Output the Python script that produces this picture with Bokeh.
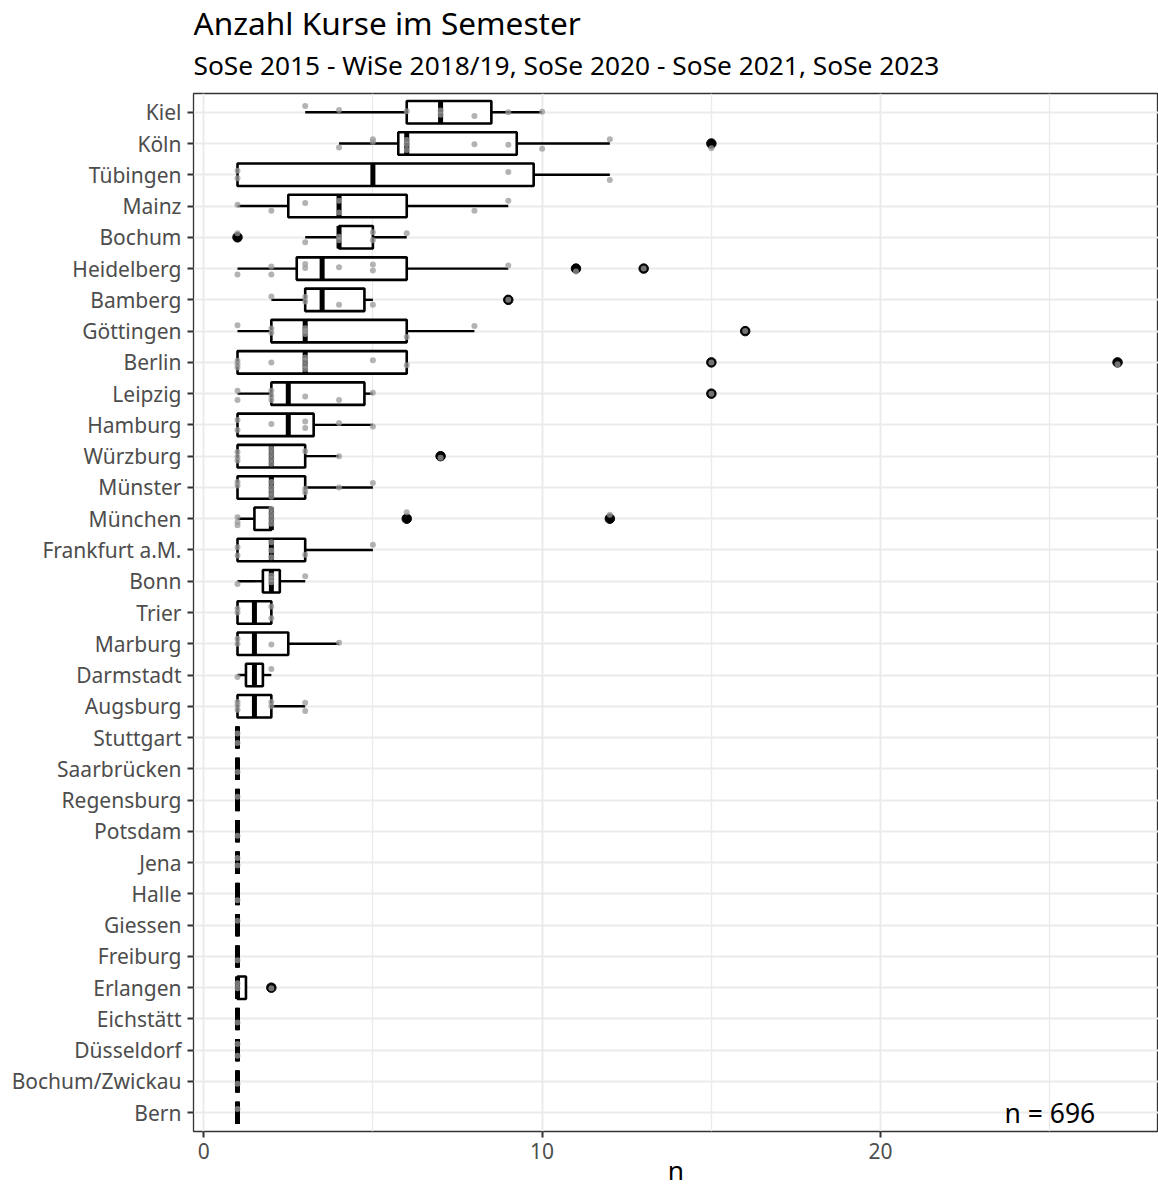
from bokeh.plotting import figure
from bokeh.models import FixedTicker, Label, Range1d, ColumnDataSource
from bokeh.layouts import column
from bokeh.embed import file_html
from bokeh.resources import INLINE

# ---------------- data ----------------
universities = ["Kiel", "Köln", "Tübingen", "Mainz", "Bochum", "Heidelberg", "Bamberg",
                "Göttingen", "Berlin", "Leipzig", "Hamburg", "Würzburg", "Münster", "München",
                "Frankfurt a.M.", "Bonn", "Trier", "Marburg", "Darmstadt", "Augsburg",
                "Stuttgart", "Saarbrücken", "Regensburg", "Potsdam", "Jena", "Halle",
                "Giessen", "Freiburg", "Erlangen", "Eichstätt", "Düsseldorf",
                "Bochum/Zwickau", "Bern"]

whisker_low = [3, 4, 1, 1, 3, 1, 2, 1, 1, 1, 1, 1, 1, 1, 1, 1, 1, 1, 1, 1,
               1, 1, 1, 1, 1, 1, 1, 1, 1, 1, 1, 1, 1]
q1 = [6, 5.75, 1, 2.5, 4, 2.75, 3, 2, 1, 2, 1, 1, 1, 1.5, 1, 1.75, 1, 1, 1.25, 1,
      1, 1, 1, 1, 1, 1, 1, 1, 1, 1, 1, 1, 1]
median = [7, 6, 5, 4, 4, 3.5, 3.5, 3, 3, 2.5, 2.5, 2, 2, 2, 2, 2, 1.5, 1.5, 1.5, 1.5,
          1, 1, 1, 1, 1, 1, 1, 1, 1, 1, 1, 1, 1]
q3 = [8.5, 9.25, 9.75, 6, 5, 6, 4.75, 6, 6, 4.75, 3.25, 3, 3, 2, 3, 2.25, 2, 2.5, 1.75, 2,
      1, 1, 1, 1, 1, 1, 1, 1, 1.25, 1, 1, 1, 1]
whisker_high = [10, 12, 12, 9, 6, 9, 5, 8, 6, 5, 5, 4, 5, 2, 5, 3, 2, 4, 2, 3,
                1, 1, 1, 1, 1, 1, 1, 1, 1.25, 1, 1, 1, 1]
outliers = [[], [15], [], [], [1], [11, 13], [9], [16], [15, 27], [15], [], [7], [], [6, 12],
            [], [], [], [], [], [], [], [], [], [], [], [], [], [], [2], [], [], [], []]

point_values = [
    [3, 4, 6, 7, 7, 8, 9, 10],
    [4, 5, 5, 6, 6, 6, 8, 9, 10, 12, 15],
    [1, 1, 9, 12],
    [1, 2, 3, 4, 4, 8, 9],
    [1, 3, 4, 4, 5, 5, 6],
    [1, 2, 2, 3, 3, 4, 5, 5, 9, 11, 13],
    [2, 3, 3, 4, 5, 9],
    [1, 2, 2, 3, 3, 3, 6, 8, 16],
    [1, 1, 1, 2, 3, 3, 3, 3, 5, 6, 15, 27],
    [1, 1, 2, 2, 2, 3, 4, 5, 15],
    [1, 1, 2, 3, 3, 4, 5],
    [1, 1, 1, 2, 2, 2, 2, 3, 4, 7],
    [1, 1, 2, 2, 2, 2, 3, 3, 4, 5],
    [1, 1, 1, 2, 2, 2, 2, 6, 12],
    [1, 1, 2, 2, 2, 3, 5],
    [1, 2, 2, 2, 3],
    [1, 1, 2, 2],
    [1, 1, 2, 4],
    [1, 2],
    [1, 1, 1, 2, 2, 3, 3],
    [1, 1],
    [1],
    [1],
    [1],
    [1, 1],
    [1],
    [1],
    [1],
    [1, 1, 2],
    [1],
    [1, 1],
    [1],
    [1],
]
point_jitter = [
    [0.2, 0.07, 0.03, 0.06, -0.08, -0.12, 0.0, 0.02],
    [-0.13, 0.14, 0.06, 0.11, -0.02, -0.21, -0.02, -0.04, -0.17, 0.14, -0.15],
    [0.13, -0.11, 0.09, -0.17],
    [0.04, -0.15, 0.1, 0.17, -0.21, -0.15, 0.17],
    [0.13, -0.16, 0.02, -0.09, 0.16, -0.09, 0.13],
    [-0.19, 0.07, -0.19, 0.15, 0.02, 0.04, 0.13, -0.06, 0.1, -0.09, 0.0],
    [0.11, 0.09, -0.05, -0.16, -0.16, 0.0],
    [0.19, 0.08, -0.05, 0.09, 0.0, -0.09, -0.19, 0.16, 0.0],
    [0.05, -0.05, -0.16, 0.0, 0.16, 0.05, -0.11, -0.21, 0.07, -0.09, 0.0, -0.06],
    [0.09, -0.2, 0.09, -0.07, -0.2, -0.09, -0.2, 0.03, 0.0],
    [0.16, -0.16, 0.03, 0.11, -0.1, 0.06, -0.05],
    [0.13, -0.03, -0.14, 0.23, 0.07, -0.09, -0.24, 0.16, 0.0, -0.05],
    [0.17, 0.06, 0.17, 0.0, -0.15, -0.3, -0.04, -0.15, 0.0, 0.14],
    [0.05, -0.11, -0.21, 0.32, 0.16, 0.0, -0.16, 0.21, 0.13],
    [0.09, -0.18, 0.25, -0.02, -0.23, -0.15, 0.17],
    [-0.09, 0.18, 0.07, -0.03, 0.16],
    [0.12, 0.0, 0.19, -0.18],
    [0.16, 0.0, -0.02, 0.03],
    [-0.06, 0.19],
    [0.14, 0.03, -0.11, 0.14, 0.0, 0.11, -0.15],
    [0.13, -0.17],
    [-0.1],
    [0.11],
    [-0.14],
    [0.15, -0.09],
    [-0.2],
    [0.14],
    [-0.12],
    [0.14, -0.02, -0.02],
    [-0.11],
    [0.2, -0.18],
    [-0.07],
    [0.12],
]

title_text = "Anzahl Kurse im Semester"
subtitle_text = "SoSe 2015 - WiSe 2018/19, SoSe 2020 - SoSe 2021, SoSe 2023"
x_label = "n"
total_label = "n = 696"
x_ticks = [0, 10, 20]
x_minor = [5, 15, 25]

# ---------------- build ----------------
FONT = "Noto Sans"
W = 1158
HEADER_H, MAIN_H = 91, 1100
n = len(universities)
ypos = [n - 1 - i for i in range(n)]
half = 0.36

x_range = Range1d(-0.3, 28.21)

box_src = ColumnDataSource(dict(
    y=ypos, q1=q1, q3=q3, med=median, wl=whisker_low, wh=whisker_high,
    top=[y + half for y in ypos], bottom=[y - half for y in ypos],
))

ox, oy = [], []
for i, vals in enumerate(outliers):
    for v in vals:
        ox.append(v)
        oy.append(ypos[i])

px, py = [], []
for i, vals in enumerate(point_values):
    for v, j in zip(vals, point_jitter[i]):
        px.append(v)
        py.append(ypos[i] + j)

# header with title and subtitle (y measured upward from the header's bottom)
header = figure(width=W, height=HEADER_H, x_range=x_range, y_range=Range1d(0, HEADER_H),
                output_backend="svg", toolbar_location=None,
                min_border_left=193, min_border_right=0, min_border_top=0, min_border_bottom=0)
header.axis.visible = False
header.grid.grid_line_color = None
header.outline_line_color = None
header.background_fill_color = "white"
header.border_fill_color = "white"
header.add_layout(Label(x=-0.3, y=HEADER_H - 22, text=title_text, text_font=FONT,
                        text_font_size="31.6px", text_color="black",
                        text_align="left", text_baseline="middle"))
header.add_layout(Label(x=-0.3, y=HEADER_H - 64, text=subtitle_text, text_font=FONT,
                        text_font_size="26.3px", text_color="black",
                        text_align="left", text_baseline="middle"))

# main panel
p = figure(width=W, height=MAIN_H,
           x_range=x_range, y_range=Range1d(-0.6, n - 1 + 0.6),
           output_backend="svg", toolbar_location=None,
           min_border_left=193, min_border_right=0, min_border_top=2, min_border_bottom=60)

p.background_fill_color = "white"
p.border_fill_color = "white"
p.outline_line_color = "#333333"
p.outline_line_width = 1.3

p.xaxis.ticker = FixedTicker(ticks=x_ticks, minor_ticks=x_minor)
p.yaxis.ticker = FixedTicker(ticks=ypos)
p.yaxis.major_label_overrides = {ypos[i]: universities[i] for i in range(n)}
for ax in (p.xaxis, p.yaxis):
    ax.axis_line_color = None
    ax.major_tick_line_color = "#333333"
    ax.major_tick_line_width = 2
    ax.major_tick_out = 6
    ax.major_tick_in = 0
    ax.minor_tick_line_color = None
    ax.major_label_text_font = FONT
    ax.major_label_text_font_size = "21px"
    ax.major_label_text_color = "#4D4D4D"
p.xaxis.major_label_standoff = 5
p.yaxis.major_label_standoff = 6
p.xaxis.axis_label = x_label
p.xaxis.axis_label_text_font = FONT
p.xaxis.axis_label_text_font_size = "26.3px"
p.xaxis.axis_label_text_font_style = "normal"
p.xaxis.axis_label_text_color = "black"
p.xaxis.axis_label_standoff = -10

p.xgrid.grid_line_color = "#EBEBEB"
p.xgrid.grid_line_width = 2
p.xgrid.minor_grid_line_color = "#EBEBEB"
p.xgrid.minor_grid_line_width = 1.3
p.ygrid.grid_line_color = "#EBEBEB"
p.ygrid.grid_line_width = 2

p.segment(x0="wl", x1="q1", y0="y", y1="y", source=box_src, line_color="black", line_width=2.4)
p.segment(x0="q3", x1="wh", y0="y", y1="y", source=box_src, line_color="black", line_width=2.4)
p.quad(left="q1", right="q3", bottom="bottom", top="top", source=box_src,
       fill_color="white", line_color="black", line_width=2.6)
p.segment(x0="med", x1="med", y0="bottom", y1="top", source=box_src,
          line_color="black", line_width=5)

p.scatter(x=ox, y=oy, size=9.5, fill_color="black", line_color="black")
p.scatter(x=px, y=py, size=6, fill_color="#999999", fill_alpha=0.75, line_color=None)

p.add_layout(Label(x=25.0, y=0.0, text=total_label, text_font=FONT, text_font_size="26.5px",
                   text_color="black", text_align="center", text_baseline="middle"))

layout = column(header, p, spacing=0)
open("out.html", "w").write(file_html(layout, INLINE))
